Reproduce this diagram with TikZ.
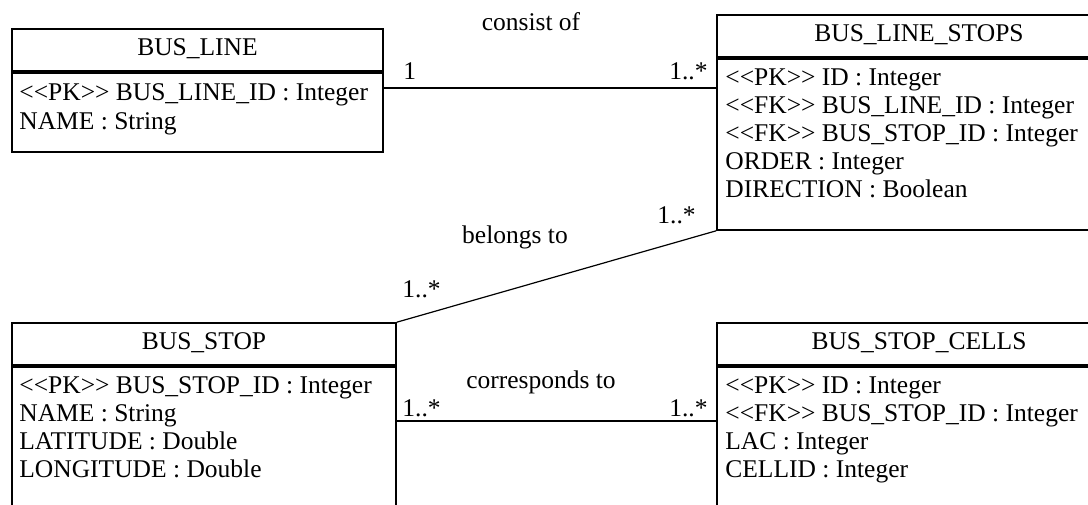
\documentclass[tikz,border=0pt]{standalone}
\usepackage{fontspec}
\setmainfont{Liberation Serif}

\newcommand{\pk}{<{}<PK>{}>}
\newcommand{\fk}{<{}<FK>{}>}

\tikzset{
	entity/.style={draw, line width=0.8pt, inner sep=0pt},
	divider/.style={line width=1.6pt},
	title/.style={anchor=base, inner sep=0pt},
	attr/.style={anchor=base west, inner sep=0pt},
	assoc/.style={line width=0.6pt},
}

\begin{document}
\begin{tikzpicture}[x=0.5pt, y=-0.5pt, font=\fontsize{12.75}{15}\selectfont]
		\useasboundingbox (0,0) rectangle (1088,504);
		\clip (0,0) rectangle (1088,504);

		% tables
		\node[entity, minimum width=185.5pt, minimum height=61.5pt] (busline) at (197.5,90.5) {};
		\node[entity, minimum width=202pt, minimum height=107.5pt] (linestops) at (919,122.5) {};
		\node[entity, minimum width=192pt, minimum height=96pt] (busstop) at (204,419) {};
		\node[entity, minimum width=202pt, minimum height=96pt] (stopcells) at (919,419) {};

		\draw [divider] (busline.west |- 0,72) -- (busline.east |- 0,72);
		\draw [divider] (linestops.west |- 0,58) -- (linestops.east |- 0,58);
		\draw [divider] (busstop.west |- 0,366) -- (busstop.east |- 0,366);
		\draw [divider] (stopcells.west |- 0,366) -- (stopcells.east |- 0,366);

		\node[title] (busline-t) at (197.5,55) {BUS\_LINE};
		\node[attr] (busline-a1) at (19,100) {\pk{} BUS\_LINE\_ID : Integer};
		\node[attr] (busline-a2) at (19,129) {NAME : String};

		\node[title] (linestops-t) at (919,41) {BUS\_LINE\_STOPS};
		\node[attr] (linestops-a1) at (725,85) {\pk{} ID : Integer};
		\node[attr] (linestops-a2) at (725,113) {\fk{} BUS\_LINE\_ID : Integer};
		\node[attr] (linestops-a3) at (725,141) {\fk{} BUS\_STOP\_ID : Integer};
		\node[attr] (linestops-a4) at (725,169) {ORDER : Integer};
		\node[attr] (linestops-a5) at (725,197) {DIRECTION : Boolean};

		\node[title] (busstop-t) at (204,349) {BUS\_STOP};
		\node[attr] (busstop-a1) at (19,393) {\pk{} BUS\_STOP\_ID : Integer};
		\node[attr] (busstop-a2) at (19,421) {NAME : String};
		\node[attr] (busstop-a3) at (19,449) {LATITUDE : Double};
		\node[attr] (busstop-a4) at (19,477) {LONGITUDE : Double};

		\node[title] (stopcells-t) at (919,349) {BUS\_STOP\_CELLS};
		\node[attr] (stopcells-a1) at (725,393) {\pk{} ID : Integer};
		\node[attr] (stopcells-a2) at (725,421) {\fk{} BUS\_STOP\_ID : Integer};
		\node[attr] (stopcells-a3) at (725,449) {LAC : Integer};
		\node[attr] (stopcells-a4) at (725,477) {CELLID : Integer};

		% associations
		\draw [assoc] (busline.east |- 0,88) -- (linestops.west |- 0,88);
		\node[title] (consist) at (531,30) {consist of};
		\node[attr] (consist-m1) at (403,79) {1};
		\node[anchor=base east, inner sep=0pt] (consist-m2) at (708,79) {1..*};

		\draw [assoc] (busstop.north east) -- (linestops.south west);
		\node[title] (belongs) at (515,243) {belongs to};
		\node[attr] (belongs-m1) at (657,223) {1..*};
		\node[attr] (belongs-m2) at (402,297) {1..*};

		\draw [assoc] (busstop.east |- 0,421) -- (stopcells.west |- 0,421);
		\node[title] (corresponds) at (541,388) {corresponds to};
		\node[attr] (corresponds-m1) at (402,416) {1..*};
		\node[anchor=base east, inner sep=0pt] (corresponds-m2) at (708,416) {1..*};
	\end{tikzpicture}
\end{document}
